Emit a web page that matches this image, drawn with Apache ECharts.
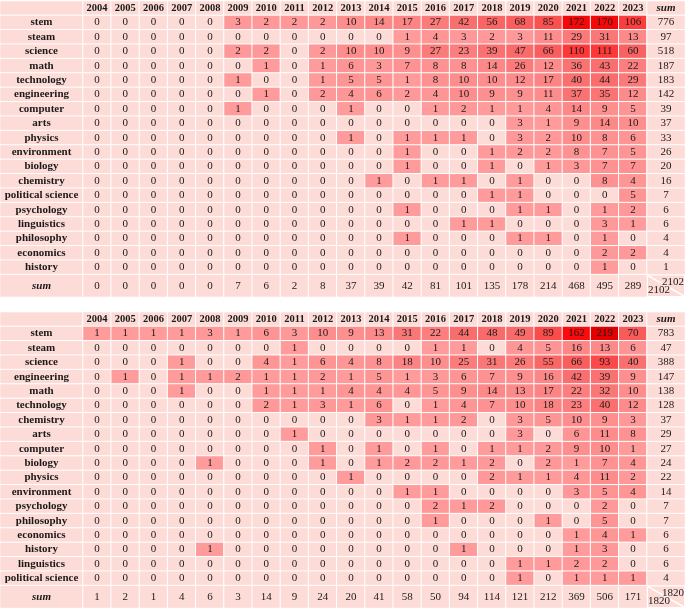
<!DOCTYPE html>
<html><head><meta charset="utf-8">
<script src="https://cdn.jsdelivr.net/npm/echarts@6/dist/echarts.min.js"></script>
<style>html,body{margin:0;padding:0;background:#fff}#c{width:685px;height:610px}</style>
</head><body><div id="c"></div>
<script>
const years = ['2004','2005','2006','2007','2008','2009','2010','2011','2012','2013','2014','2015','2016','2017','2018','2019','2020','2021','2022','2023'];

// ---- Table 1 ----
const rows1 = ['stem','steam','science','math','technology','engineering','computer','arts','physics','environment','biology','chemistry','political science','psychology','linguistics','philosophy','economics','history'];
const values1 = [
  [0,0,0,0,0,3,2,2,2,10,14,17,27,42,56,68,85,172,170,106],
  [0,0,0,0,0,0,0,0,0,0,0,1,4,3,2,3,11,29,31,13],
  [0,0,0,0,0,2,2,0,2,10,10,9,27,23,39,47,66,110,111,60],
  [0,0,0,0,0,0,1,0,1,6,3,7,8,8,14,26,12,36,43,22],
  [0,0,0,0,0,1,0,0,1,5,5,1,8,10,10,12,17,40,44,29],
  [0,0,0,0,0,0,1,0,2,4,6,2,4,10,9,9,11,37,35,12],
  [0,0,0,0,0,1,0,0,0,1,0,0,1,2,1,1,4,14,9,5],
  [0,0,0,0,0,0,0,0,0,0,0,0,0,0,0,3,1,9,14,10],
  [0,0,0,0,0,0,0,0,0,1,0,1,1,1,0,3,2,10,8,6],
  [0,0,0,0,0,0,0,0,0,0,0,1,0,0,1,2,2,8,7,5],
  [0,0,0,0,0,0,0,0,0,0,0,1,0,0,1,0,1,3,7,7],
  [0,0,0,0,0,0,0,0,0,0,1,0,1,1,0,1,0,0,8,4],
  [0,0,0,0,0,0,0,0,0,0,0,0,0,0,1,1,0,0,0,5],
  [0,0,0,0,0,0,0,0,0,0,0,1,0,0,0,1,1,0,1,2],
  [0,0,0,0,0,0,0,0,0,0,0,0,0,1,1,0,0,0,3,1],
  [0,0,0,0,0,0,0,0,0,0,0,1,0,0,0,1,1,0,1,0],
  [0,0,0,0,0,0,0,0,0,0,0,0,0,0,0,0,0,0,2,2],
  [0,0,0,0,0,0,0,0,0,0,0,0,0,0,0,0,0,0,1,0]
];
const rowSums1 = [776,97,518,187,183,142,39,37,33,26,20,16,7,6,6,4,4,1];
const colSums1 = [0,0,0,0,0,7,6,2,8,37,39,42,81,101,135,178,214,468,495,289];
const total1 = 2102;

// ---- Table 2 ----
const rows2 = ['stem','steam','science','engineering','math','technology','chemistry','arts','computer','biology','physics','environment','psychology','philosophy','economics','history','linguistics','political science'];
const values2 = [
  [1,1,1,1,3,1,6,3,10,9,13,31,22,44,48,49,89,162,219,70],
  [0,0,0,0,0,0,0,1,0,0,0,0,1,1,0,4,5,16,13,6],
  [0,0,0,1,0,0,4,1,6,4,8,18,10,25,31,26,55,66,93,40],
  [0,1,0,1,1,2,1,1,2,1,5,1,3,6,7,9,16,42,39,9],
  [0,0,0,1,0,0,1,1,1,4,4,4,5,9,14,13,17,22,32,10],
  [0,0,0,0,0,0,2,1,3,1,6,0,1,4,7,10,18,23,40,12],
  [0,0,0,0,0,0,0,0,0,0,3,1,1,2,0,3,5,10,9,3],
  [0,0,0,0,0,0,0,1,0,0,0,0,0,0,0,3,0,6,11,8],
  [0,0,0,0,0,0,0,0,1,0,1,0,1,0,1,1,2,9,10,1],
  [0,0,0,0,1,0,0,0,1,0,1,2,2,1,2,0,2,1,7,4],
  [0,0,0,0,0,0,0,0,0,1,0,0,0,0,2,1,1,4,11,2],
  [0,0,0,0,0,0,0,0,0,0,0,1,1,0,0,0,0,3,5,4],
  [0,0,0,0,0,0,0,0,0,0,0,0,2,1,2,0,0,0,2,0],
  [0,0,0,0,0,0,0,0,0,0,0,0,1,0,0,0,1,0,5,0],
  [0,0,0,0,0,0,0,0,0,0,0,0,0,0,0,0,0,1,4,1],
  [0,0,0,0,1,0,0,0,0,0,0,0,0,1,0,0,0,1,3,0],
  [0,0,0,0,0,0,0,0,0,0,0,0,0,0,0,1,1,2,2,0],
  [0,0,0,0,0,0,0,0,0,0,0,0,0,0,0,1,0,1,1,1]
];
const rowSums2 = [783,47,388,147,138,128,37,29,27,24,22,14,7,7,6,6,6,4];
const colSums2 = [1,2,1,4,6,3,14,9,24,20,41,58,50,94,114,121,212,369,506,171];
const total2 = 1820;

const PINK = '#fddcd8';
const FONT = '"Liberation Serif","Times New Roman",serif';
const TXT = '#1a1a1a';
const option = { animation:false, backgroundColor:'#fff', grid:[], xAxis:[], yAxis:[], series:[], visualMap:[] };
const dataSeriesIdx = [];

function addGrid(left, top, width, height, xCats, yCats){
  const i = option.grid.length;
  option.grid.push({left, top, width, height});
  option.xAxis.push({type:'category', data:xCats, gridIndex:i, show:false});
  option.yAxis.push({type:'category', data:yCats, gridIndex:i, show:false, inverse:true});
  return i;
}
function frame(gi, data, texts, lbl){
  option.series.push({
    type:'heatmap', xAxisIndex:gi, yAxisIndex:gi, data,
    itemStyle:{color:PINK, borderColor:'#fff', borderWidth:1},
    emphasis:{disabled:true},
    label:Object.assign({show:true, formatter:p=>texts[p.dataIndex], fontFamily:FONT, fontSize:11, color:TXT,
      rich:{i:{fontStyle:'italic', fontWeight:'bold', fontFamily:FONT, fontSize:11, color:TXT}}}, lbl||{})
  });
}

function buildTable(y0, rows, values, rowSums, colSums, total){
  const rh = 14.4, sumH = 22.4;
  const L = 83, W = 564, SW = 38;
  const H = rh * (rows.length + 1);
  const yc = ['h'].concat(rows);
  // label column
  let g = addGrid(0, y0, L, H, ['c'], yc);
  frame(g, yc.map((r,j)=>[0,j,0]), [''].concat(rows), {fontWeight:'bold', fontSize:11});
  // main grid
  g = addGrid(L, y0, W, H, years, yc);
  frame(g, years.map((y,i)=>[i,0,0]), years, {fontWeight:'bold', fontSize:10.5});
  const d = [];
  values.forEach((r,j)=>r.forEach((v,i)=>d.push([i,j+1,v])));
  dataSeriesIdx.push(option.series.length);
  option.series.push({
    type:'heatmap', xAxisIndex:g, yAxisIndex:g, data:d,
    itemStyle:{borderColor:'#fff', borderWidth:1},
    emphasis:{disabled:true},
    label:{show:true, fontFamily:FONT, fontSize:11, color:TXT, formatter:p=>String(p.value[2])}
  });
  // sum column
  g = addGrid(L+W, y0, SW, H, ['s'], yc);
  frame(g, yc.map((r,j)=>[0,j,0]), ['{i|sum}'].concat(rowSums.map(String)));
  // sum row
  const ys = y0 + H;
  g = addGrid(0, ys, L, sumH, ['c'], ['s']);
  frame(g, [[0,0,0]], ['{i|sum}']);
  g = addGrid(L, ys, W, sumH, years, ['s']);
  frame(g, years.map((y,i)=>[i,0,0]), colSums.map(String));
  // corner
  g = addGrid(L+W, ys, SW, sumH, ['s'], ['s']);
  option.series.push({
    type:'custom', coordinateSystem:'cartesian2d', xAxisIndex:g, yAxisIndex:g,
    data:[[0,0,total]],
    renderItem:(params, api)=>{
      const c = api.coord([api.value(0), api.value(1)]);
      const s = api.size([1,1]);
      const x0 = c[0]-s[0]/2, yy = c[1]-s[1]/2;
      const t = String(api.value(2));
      const f = '11px "Liberation Serif"';
      return {type:'group', children:[
        {type:'rect', shape:{x:x0+1, y:yy+1, width:s[0]-2, height:s[1]-2}, style:{fill:PINK}},
        {type:'line', shape:{x1:x0+1, y1:yy+1, x2:x0+s[0]-1, y2:yy+s[1]-1}, style:{stroke:'#fff', lineWidth:1.5}},
        {type:'text', style:{text:t, x:x0+s[0]-1, y:yy+2, align:'right', verticalAlign:'top', font:f, fill:TXT}},
        {type:'text', style:{text:t, x:x0+1, y:yy+s[1]-1, align:'left', verticalAlign:'bottom', font:f, fill:TXT}}
      ]};
    }
  });
}

buildTable(1, rows1, values1, rowSums1, colSums1, total1);
buildTable(312, rows2, values2, rowSums2, colSums2, total2);

option.visualMap.push({
  type:'continuous', show:false, min:0, max:221, range:[0.5, 221], seriesIndex:dataSeriesIdx, dimension:2,
  inRange:{color:['#ff9c9c','#fc8080','#f97070','#f96262','#fa5454','#fc4242','#fe2e2e','#ff1c1c','#fc0c0c','#f20404','#ea0000','#e20000']},
  outOfRange:{color:PINK}
});

const chart = echarts.init(document.getElementById('c'), null, {renderer:'canvas'});
chart.setOption(option);
</script></body></html>
